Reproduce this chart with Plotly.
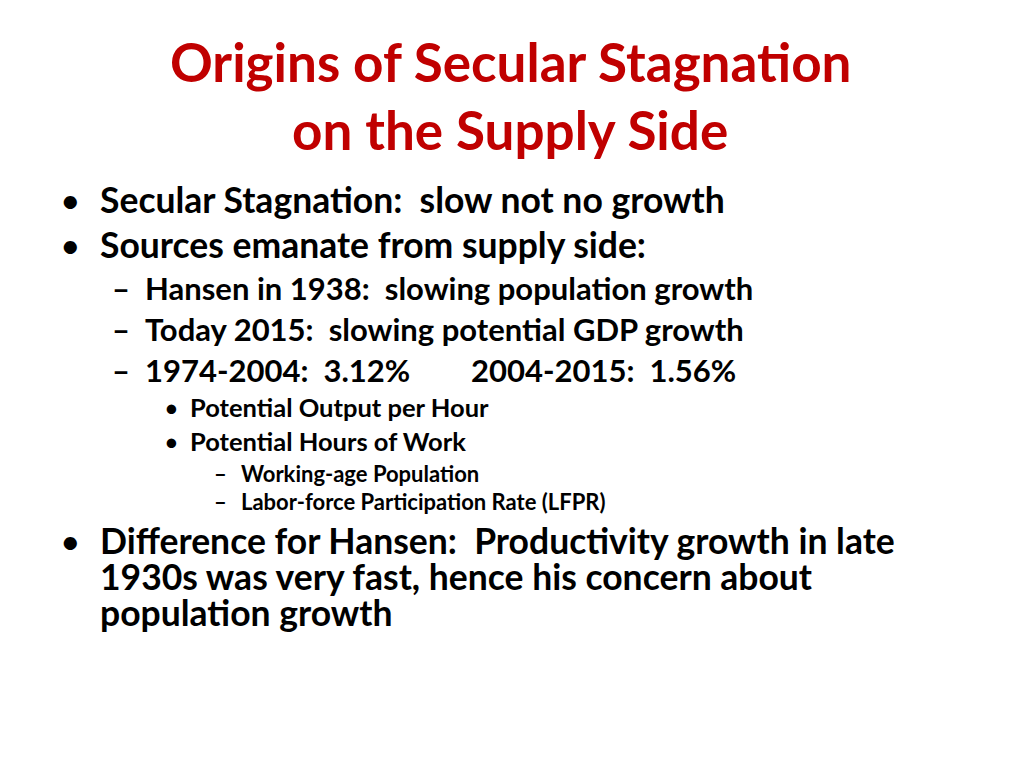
import plotly.graph_objects as go

title_lines = ["Origins of Secular Stagnation", "on the Supply Side"]
bullets = [
    # (level, marker, text, y)
    (1, "•", "Secular Stagnation:  slow not no growth", 201),
    (1, "•", "Sources emanate from supply side:", 246),
    (2, "–", "Hansen in 1938:  slowing population growth", 290),
    (2, "–", "Today 2015:  slowing potential GDP growth", 331),
    (2, "–", "1974-2004:  3.12%", 372),
    (3, "•", "Potential Output per Hour", 409),
    (3, "•", "Potential Hours of Work", 443),
    (4, "–", "Working-age Population", 475),
    (4, "–", "Labor-force Participation Rate (LFPR)", 503),
    (1, "•", "Difference for Hansen:  Productivity growth in late", 542),
    (0, "", "1930s was very fast, hence his concern about", 578),
    (0, "", "population growth", 614),
]
extra_text = "2004-2015:  1.56%"

FONT = "Lato"
DX, DY = -10, -10
styles = {0: (None, 100, 35.5), 1: (60, 100, 35.5), 2: (112, 145, 31), 3: (164, 190, 25.5), 4: (214, 241, 22)}

fig = go.Figure()
ann = []
for i, t in enumerate(title_lines):
    ann.append(dict(x=512 + DX, y=[63, 131][i] + DY, text="<b>%s</b>" % t, showarrow=False,
                    xanchor="center", yanchor="middle",
                    font=dict(family=FONT, size=53, color="#C00000")))
for lvl, m, t, y in bullets:
    mx, tx, sz = styles[lvl]
    if m:
        ann.append(dict(x=mx + DX, y=y + DY, text="<b>%s</b>" % m if m == "–" else m, showarrow=False,
                        xanchor="left", yanchor="middle", font=dict(family=FONT, size=sz, color="black")))
    ann.append(dict(x=tx + DX, y=y + DY, text="<b>%s</b>" % t, showarrow=False,
                    xanchor="left", yanchor="middle", font=dict(family=FONT, size=sz, color="black")))
ann.append(dict(x=471 + DX, y=372 + DY, text="<b>%s</b>" % extra_text, showarrow=False,
                xanchor="left", yanchor="middle", font=dict(family=FONT, size=31, color="black")))

fig.update_layout(width=1024, height=768, margin=dict(l=0, r=0, t=0, b=0),
                  paper_bgcolor="white", plot_bgcolor="white", annotations=ann,
                  xaxis=dict(range=[0, 1024], visible=False, fixedrange=True),
                  yaxis=dict(range=[768, 0], visible=False, fixedrange=True),
                  showlegend=False)
fig.write_html("out.html", config={"displayModeBar": False})
